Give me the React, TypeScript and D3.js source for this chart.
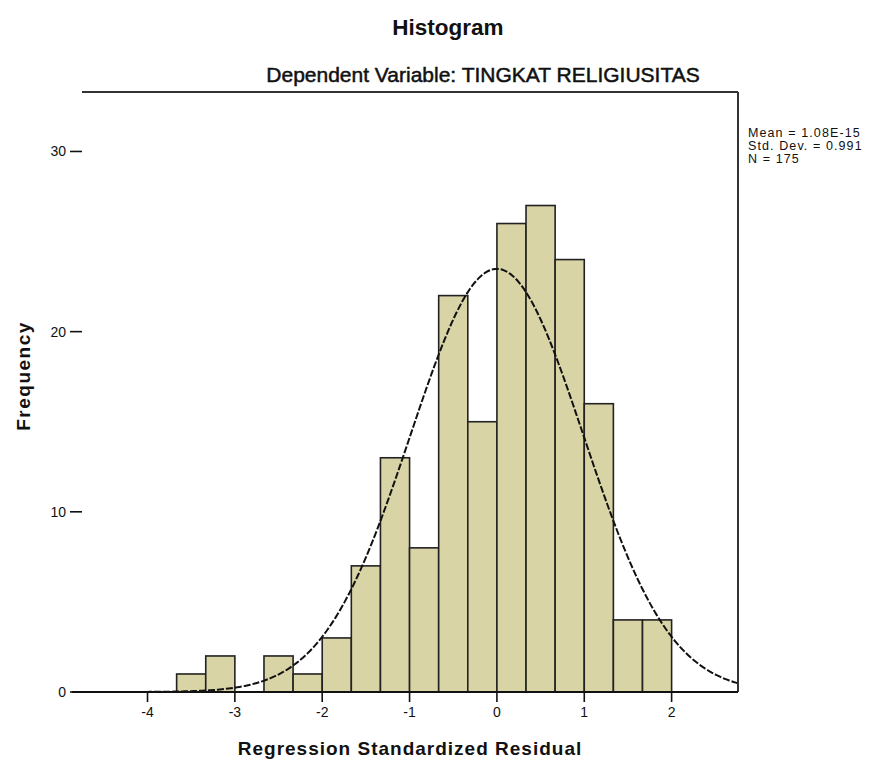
import React from "react";
import * as d3 from "d3";

// ---- Data ----
const binLower: number[] = [
  -11 / 3, -10 / 3, -9 / 3, -8 / 3, -7 / 3, -6 / 3, -5 / 3, -4 / 3, -3 / 3,
  -2 / 3, -1 / 3, 0, 1 / 3, 2 / 3, 3 / 3, 4 / 3, 5 / 3,
];
const binCounts: number[] = [1, 2, 0, 2, 1, 3, 7, 13, 8, 22, 15, 26, 27, 24, 16, 4, 4];
const binWidth = 1 / 3;
const xTicks: number[] = [-4, -3, -2, -1, 0, 1, 2];
const yTicks: number[] = [0, 10, 20, 30];
const statMean = 1.08e-15;
const statSd = 0.991;
const statN = 175;
const legendLines: string[] = ["Mean = 1.08E-15", "Std. Dev. = 0.991", "N = 175"];

const W = 882;
const H = 767;
const plot = { left: 82, right: 738, top: 92, bottom: 692 };
const FONT = "'Liberation Sans', Arial, Helvetica, sans-serif";

export default function App() {
  const x = d3.scaleLinear().domain([-4.75, 2.76]).range([plot.left, plot.right]);
  const y = d3.scaleLinear().domain([0, 33.3]).range([plot.bottom, plot.top]);

  const pdf = (v: number) =>
    (statN * binWidth * Math.exp(-0.5 * ((v - statMean) / statSd) ** 2)) /
    (statSd * Math.sqrt(2 * Math.PI));
  const [d0, d1] = x.domain();
  const curvePts: [number, number][] = d3
    .range(0, 301)
    .map((i) => d0 + ((d1 - d0) * i) / 300)
    .map((v) => [v, pdf(v)]);
  const line = d3
    .line<[number, number]>()
    .x((d) => x(d[0]))
    .y((d) => y(d[1]))
    .curve(d3.curveLinear);

  return (
    <svg
      width={W}
      height={H}
      style={{ position: "absolute", left: 0, top: 0, background: "#fff" }}
      fontFamily={FONT}
    >
      <rect x={0} y={0} width={W} height={H} fill="#fff" />
      {/* Titles */}
      <text x={448} y={35} textAnchor="middle" fontSize={22.5} fontWeight="bold" fill="#111">
        Histogram
      </text>
      <text x={483} y={82} textAnchor="middle" fontSize={21} fill="#111" stroke="#111" strokeWidth={0.5}>
        Dependent Variable: TINGKAT RELIGIUSITAS
      </text>

      {/* Bars */}
      {binLower.map((lo, i) =>
        binCounts[i] > 0 ? (
          <rect
            key={i}
            x={x(lo)}
            y={y(binCounts[i])}
            width={x(lo + binWidth) - x(lo)}
            height={y(0) - y(binCounts[i])}
            fill="#d8d4a6"
            stroke="#222"
            strokeWidth={1.6}
          />
        ) : null
      )}

      {/* Normal curve */}
      <path
        d={line(curvePts) || ""}
        fill="none"
        stroke="#111"
        strokeWidth={2}
        strokeDasharray="7,2"
      />

      {/* Frame: top & right */}
      <line x1={plot.left} x2={plot.right} y1={plot.top} y2={plot.top} stroke="#333" strokeWidth={2} />
      <line x1={plot.right} x2={plot.right} y1={plot.top} y2={plot.bottom} stroke="#333" strokeWidth={2} />
      {/* Bottom axis line */}
      <line x1={72} x2={plot.right} y1={y(0)} y2={y(0)} stroke="#111" strokeWidth={2} />

      {/* Y ticks */}
      {yTicks.map((t) => (
        <g key={t}>
          <line x1={70} x2={plot.left} y1={y(t)} y2={y(t)} stroke="#111" strokeWidth={1.6} />
          <text x={66} y={y(t) + 5} textAnchor="end" fontSize={14} fill="#111">
            {t}
          </text>
        </g>
      ))}

      {/* X ticks */}
      {xTicks.map((t) => (
        <g key={t}>
          <line x1={x(t)} x2={x(t)} y1={y(0)} y2={y(0) + 10} stroke="#111" strokeWidth={1.6} />
          <text x={x(t)} y={y(0) + 25} textAnchor="middle" fontSize={14} fill="#111">
            {t}
          </text>
        </g>
      ))}

      {/* Axis labels */}
      <text x={410} y={755} textAnchor="middle" fontSize={19} fontWeight="bold" letterSpacing={1} fill="#111">
        Regression Standardized Residual
      </text>
      <text
        transform="translate(30,376) rotate(-90)"
        textAnchor="middle"
        fontSize={19}
        fontWeight="bold"
        letterSpacing={1.5}
        fill="#111"
      >
        Frequency
      </text>

      {/* Legend */}
      {legendLines.map((s, i) => (
        <text key={i} x={748} y={137 + i * 13} fontSize={12.5} letterSpacing={1.1} fill="#111">
          {s}
        </text>
      ))}
    </svg>
  );
}
